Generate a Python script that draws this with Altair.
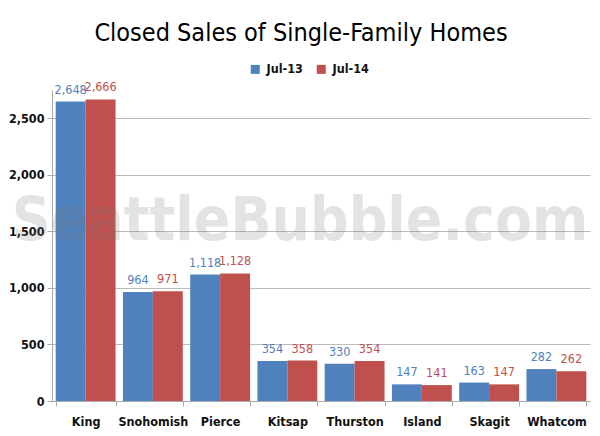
import altair as alt
import pandas as pd

counties = ["King", "Snohomish", "Pierce", "Kitsap", "Thurston", "Island", "Skagit", "Whatcom"]
jul13 = [2648, 964, 1118, 354, 330, 147, 163, 282]
jul14 = [2666, 971, 1128, 358, 354, 141, 147, 262]
series = ["Jul-13", "Jul-14"]
colors = ["#4F81BD", "#C0504D"]
y_ticks = [0, 500, 1000, 1500, 2000, 2500]

rows = []
for i, c in enumerate(counties):
    rows.append({"county": c, "series": series[0], "value": jul13[i]})
    rows.append({"county": c, "series": series[1], "value": jul14[i]})
df = pd.DataFrame(rows)

FONT = "'DejaVu Sans Condensed', 'Liberation Sans Narrow', Roboto"

x = alt.X("county:N", sort=counties, title=None,
          scale=alt.Scale(paddingInner=0.11, paddingOuter=0.055),
          axis=alt.Axis(labelAngle=0, labelFont=FONT, labelFontSize=12.5, labelFontWeight="bold",
                        labelColor="#111", labelPadding=9, tickBand="extent", tickSize=5,
                        tickColor="#aaa", domainColor="#aaa"))
y = alt.Y("value:Q", title=None,
          scale=alt.Scale(domain=[0, 2750], nice=False),
          axis=alt.Axis(values=y_ticks, format=",d", labelFont=FONT, labelFontSize=12.5,
                        labelFontWeight="bold", labelColor="#111", labelPadding=3,
                        tickSize=5, tickColor="#aaa", domainColor="#aaa",
                        gridColor="#bbb", gridWidth=1))
color = alt.Color("series:N", scale=alt.Scale(domain=series, range=colors),
                  legend=alt.Legend(title=None, orient="none", legendX=197, legendY=-27,
                                    direction="horizontal", symbolType="square", symbolSize=81,
                                    symbolStrokeWidth=0, labelFont=FONT, labelFontSize=12.5,
                                    labelFontWeight="bold", labelColor="#111", columnPadding=12,
                                    labelOffset=5))

base = alt.Chart(df).encode(x=x, xOffset=alt.XOffset("series:N", sort=series))

bars = base.mark_bar().encode(y=y, color=color)
labels = base.mark_text(dy=-12, font=FONT, fontSize=12.5).encode(
    y="value:Q", text=alt.Text("value:Q", format=","),
    color=alt.Color("series:N", scale=alt.Scale(domain=series, range=colors), legend=None))

wm = alt.Chart(pd.DataFrame({"t": ["SeattleBubble.com"]})).mark_text(
    font=FONT, fontWeight="bold", fontSize=60, color="#777", opacity=0.2,
    align="center", baseline="alphabetic").encode(
    text="t:N", x=alt.value(248), y=alt.value(150))

chart = alt.layer(bars, labels, wm).properties(
    width=538, height=311,
    title=alt.TitleParams("Closed Sales of Single-Family Homes", font=FONT, fontSize=25,
                          fontWeight="normal", color="#000", anchor="middle", dx=-20, offset=17),
    autosize=alt.AutoSizeParams(type="none"),
    padding={"left": 44, "top": 82, "right": 2, "bottom": 30},
).configure_view(stroke=None).configure_axisX(grid=False)

chart.save("out.html", embed_options={"renderer": "svg", "actions": False})
